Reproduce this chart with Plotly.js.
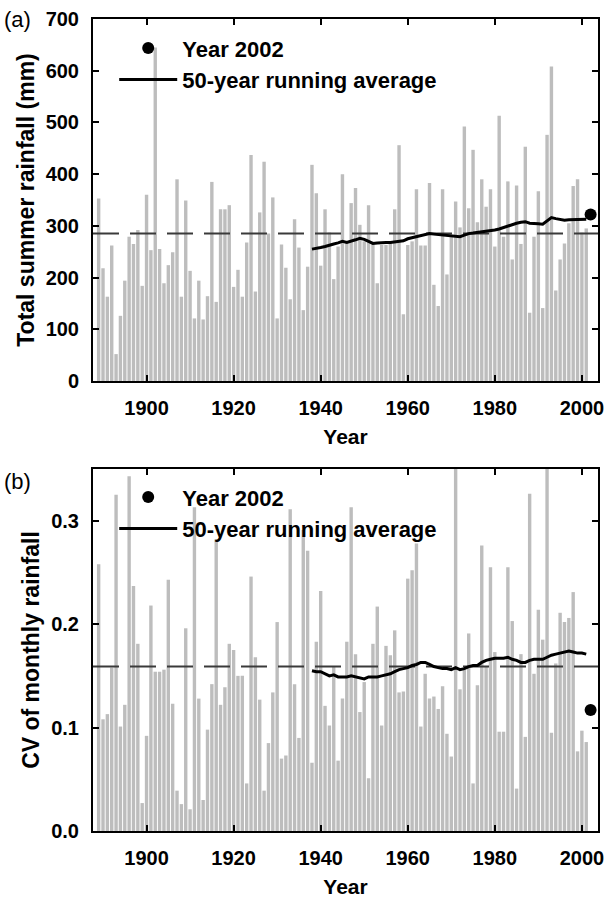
<!DOCTYPE html>
<html><head><meta charset="utf-8">
<script src="https://cdn.plot.ly/plotly-3.0.1.min.js"></script>
<style>html,body{margin:0;padding:0;background:#fff}#chart{width:606px;height:898px}</style>
</head><body><div id="chart"></div>
<script>
// ---- data ----
const years = [1889,1890,1891,1892,1893,1894,1895,1896,1897,1898,1899,
1900,1901,1902,1903,1904,1905,1906,1907,1908,1909,
1910,1911,1912,1913,1914,1915,1916,1917,1918,1919,
1920,1921,1922,1923,1924,1925,1926,1927,1928,1929,
1930,1931,1932,1933,1934,1935,1936,1937,1938,1939,
1940,1941,1942,1943,1944,1945,1946,1947,1948,1949,
1950,1951,1952,1953,1954,1955,1956,1957,1958,1959,
1960,1961,1962,1963,1964,1965,1966,1967,1968,1969,
1970,1971,1972,1973,1974,1975,1976,1977,1978,1979,
1980,1981,1982,1983,1984,1985,1986,1987,1988,1989,
1990,1991,1992,1993,1994,1995,1996,1997,1998,1999,
2000,2001];

const summerRain = [353,218,163,262,52,126,194,279,265,292,184,
360,253,645,255,189,224,249,390,163,349,
213,121,194,119,164,385,153,332,332,340,
182,215,163,268,437,173,326,424,285,355,
121,264,219,158,313,258,137,221,418,363,
223,332,287,197,260,400,270,344,373,302,
270,340,266,189,263,263,270,332,456,129,
263,270,371,262,262,383,186,145,371,206,
279,347,297,492,334,447,307,390,337,371,
260,513,279,386,235,378,265,453,132,279,
367,141,476,608,175,235,266,305,377,390,
287,295];

const cvRain = [0.258,0.108,0.113,0.158,0.325,0.101,0.122,0.343,0.237,0.181,0.027,
0.092,0.218,0.154,0.154,0.156,0.243,0.123,0.039,0.026,0.196,
0.021,0.313,0.128,0.030,0.098,0.142,0.282,0.122,0.139,0.181,
0.175,0.150,0.150,0.046,0.246,0.168,0.127,0.039,0.085,0.134,
0.202,0.070,0.073,0.311,0.142,0.090,0.291,0.271,0.066,0.183,
0.232,0.121,0.102,0.159,0.068,0.128,0.183,0.313,0.171,0.115,
0.144,0.051,0.181,0.217,0.102,0.179,0.170,0.194,0.134,0.135,
0.244,0.252,0.278,0.101,0.152,0.128,0.130,0.118,0.140,0.094,
0.072,0.360,0.137,0.156,0.191,0.046,0.141,0.276,0.159,0.255,
0.173,0.096,0.096,0.255,0.203,0.041,0.171,0.091,0.326,0.152,
0.214,0.185,0.360,0.095,0.162,0.211,0.202,0.206,0.231,0.077,
0.097,0.086];

const runYears = [1938,1939,1940,1941,1942,1943,1944,1945,1946,1947,1948,1949,
1950,1951,1952,1953,1954,1955,1956,1957,1958,1959,
1960,1961,1962,1963,1964,1965,1966,1967,1968,1969,
1970,1971,1972,1973,1974,1975,1976,1977,1978,1979,
1980,1981,1982,1983,1984,1985,1986,1987,1988,1989,
1990,1991,1992,1993,1994,1995,1996,1997,1998,1999,
2000,2001];

const runRain = [255,256,258,260,263,265,267,270,268,270,273,276,
274,270,266,267,268,268,268,269,271,271,
275,277,279,280,282,285,284,283,282,281,
280,279,279,282,285,286,287,289,289,290,
292,294,297,300,302,305,307,308,305,305,
304,303,310,316,314,312,311,312,312,312,
313,313];

const runCV = [0.155,0.154,0.154,0.152,0.150,0.151,0.149,0.149,0.149,0.150,0.149,0.148,
0.147,0.149,0.149,0.149,0.150,0.151,0.152,0.154,0.156,0.157,
0.158,0.160,0.161,0.163,0.163,0.161,0.159,0.158,0.157,0.157,
0.156,0.158,0.156,0.157,0.159,0.160,0.160,0.163,0.165,0.166,
0.167,0.167,0.167,0.168,0.166,0.165,0.163,0.163,0.165,0.166,
0.166,0.166,0.168,0.170,0.171,0.172,0.173,0.174,0.173,0.172,
0.172,0.171];

const year2002 = [2002];
const rain2002 = [322];
const cv2002 = [0.117];

const meanRain = 285;
const meanCV = 0.159;

const xRange = [1887.7, 2003.7];
const xTicks = [1900,1920,1940,1960,1980,2000];

// ---- styles ----
const FONT = "Liberation Sans, Arial, Helvetica, sans-serif";
const barColor = "#bdbdbd";

const traces = [
  {type:'bar', x:years, y:summerRain, xaxis:'x', yaxis:'y', marker:{color:barColor, line:{width:0}}, showlegend:false, hoverinfo:'x+y'},
  {type:'scatter', mode:'lines', x:xRange, y:[meanRain, meanRain], xaxis:'x', yaxis:'y', line:{color:'#3a3a3a', width:2, dash:'26px,11px'}, showlegend:false},
  {type:'scatter', mode:'markers', name:'Year 2002', x:year2002, y:rain2002, xaxis:'x', yaxis:'y', marker:{color:'#000', size:12}, legend:'legend', legendgroup:'a1'},
  {type:'scatter', mode:'lines', name:'50-year running average', x:runYears, y:runRain, xaxis:'x', yaxis:'y', line:{color:'#000', width:3}, legend:'legend', legendgroup:'a2'},

  {type:'bar', x:years, y:cvRain, xaxis:'x2', yaxis:'y2', marker:{color:barColor, line:{width:0}}, showlegend:false, hoverinfo:'x+y'},
  {type:'scatter', mode:'lines', x:xRange, y:[meanCV, meanCV], xaxis:'x2', yaxis:'y2', line:{color:'#3a3a3a', width:2, dash:'26px,11px'}, showlegend:false},
  {type:'scatter', mode:'markers', name:'Year 2002', x:year2002, y:cv2002, xaxis:'x2', yaxis:'y2', marker:{color:'#000', size:12}, legend:'legend2', legendgroup:'b1'},
  {type:'scatter', mode:'lines', name:'50-year running average', x:runYears, y:runCV, xaxis:'x2', yaxis:'y2', line:{color:'#000', width:3}, legend:'legend2', legendgroup:'b2'}
];

const tickFont = {family:FONT, size:20, color:'#000', weight:'bold'};
const xTitleFont = {family:FONT, size:21, color:'#000', weight:'bold'};
const yTitleFont = {family:FONT, size:23, color:'#000', weight:'bold'};

function xAxis(anchor){
  return {anchor:anchor, range:xRange, tickvals:xTicks, ticks:'inside', ticklen:6, tickwidth:1.5, tickcolor:'#000',
    showline:true, linecolor:'#000', linewidth:2, mirror:'ticks', showgrid:false, zeroline:false,
    tickfont:tickFont, ticklabelstandoff:8, automargin:false,
    title:{text:'Year', font:xTitleFont, standoff:11}};
}
function yAxis(anchor, domain, range, dtick, fmt, title){
  return {anchor:anchor, domain:domain, range:range, dtick:dtick, tick0:0, tickformat:fmt, ticks:'inside', ticklen:6, tickwidth:1.5, tickcolor:'#000',
    showline:true, linecolor:'#000', linewidth:2, mirror:'ticks', showgrid:false, zeroline:false,
    tickfont:tickFont, ticklabelstandoff:8, automargin:false,
    title:{text:title, font:yTitleFont, standoff:5}};
}

const legendBase = {bgcolor:'rgba(0,0,0,0)', borderwidth:0, font:{family:FONT, size:22, color:'#000', weight:'bold'},
  traceorder:'grouped', tracegroupgap:0, itemwidth:58, xanchor:'left', yanchor:'top'};

const layout = {
  width:606, height:898,
  margin:{l:93, r:8, t:19, b:67},
  paper_bgcolor:'#fff', plot_bgcolor:'#fff',
  bargap:0.22,
  showlegend:true,
  xaxis:xAxis('y'),
  yaxis:yAxis('x', [0.5542, 1], [0, 700], 100, 'd', 'Total summer rainfall (mm)'),
  xaxis2:xAxis('y2'),
  yaxis2:yAxis('x2', [0, 0.4458], [0, 0.35], 0.1, '.1f', 'CV of monthly rainfall'),
  legend:Object.assign({}, legendBase, {x:0.042, y:0.99}),
  legend2:Object.assign({}, legendBase, {x:0.042, y:0.437}),
  annotations:[
    {text:'(a)', xref:'paper', yref:'paper', x:-0.18, y:1.0, xanchor:'left', yanchor:'middle', showarrow:false, font:{family:FONT, size:22, color:'#000'}},
    {text:'(b)', xref:'paper', yref:'paper', x:-0.18, y:0.431, xanchor:'left', yanchor:'middle', showarrow:false, font:{family:FONT, size:22, color:'#000'}}
  ]
};

Plotly.newPlot('chart', traces, layout, {displayModeBar:false, responsive:false});
</script>
</body></html>
